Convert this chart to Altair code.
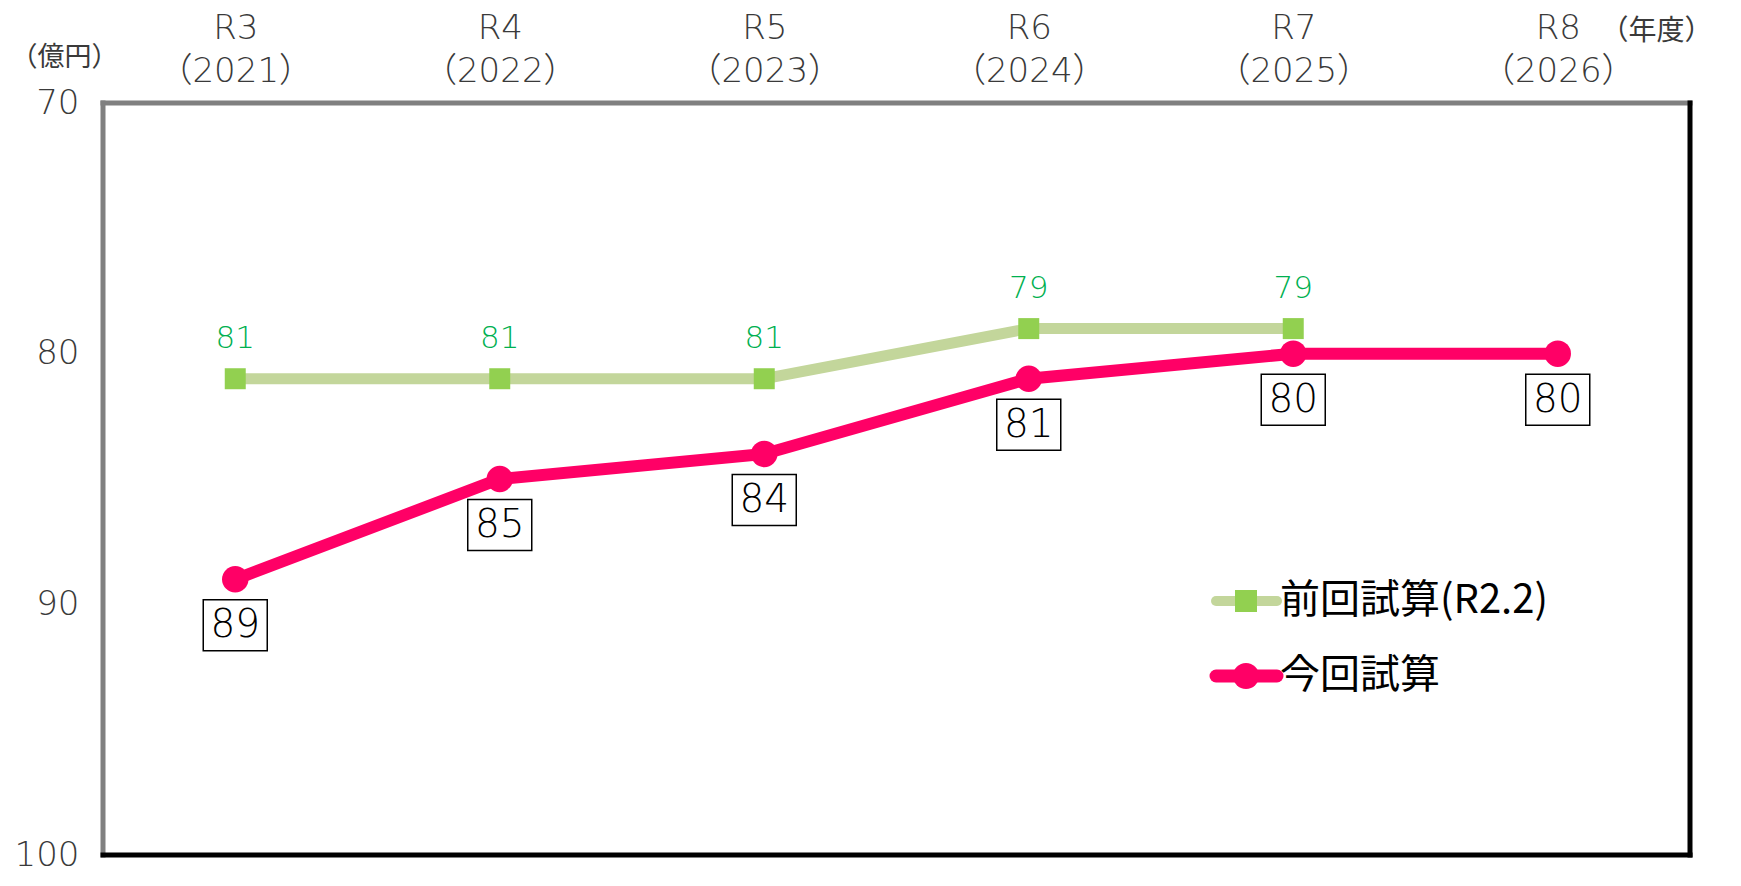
import altair as alt
import pandas as pd

# ---- data ----
periods = ["R3", "R4", "R5", "R6", "R7", "R8"]
years = ["2021", "2022", "2023", "2024", "2025", "2026"]
prev_values = [81, 81, 81, 79, 79]          # 前回試算(R2.2)
curr_values = [89, 85, 84, 81, 80, 80]      # 今回試算
series_names = ["前回試算(R2.2)", "今回試算"]
y_ticks = [70, 80, 90, 100]

keys = [f"{p}|（{y}）" for p, y in zip(periods, years)]
prev_df = pd.DataFrame({"key": keys[:len(prev_values)], "value": prev_values})
curr_df = pd.DataFrame({"key": keys, "value": curr_values})

W, H = 1587, 752
JP = "Noto Sans CJK JP"
NUM = "DejaVu Sans, Noto Sans CJK JP"
TXT = "#3a3a3a"

x_enc = alt.X(
    "key:N",
    sort=keys,
    scale=alt.Scale(domain=keys),
    axis=alt.Axis(
        orient="top", labelExpr="split(datum.label, '|')", labelAngle=0,
        labelFontSize=34, labelLineHeight=43, labelPadding=58, labelColor=TXT,
        labelFont=NUM, labelFontWeight=300, domain=False, ticks=False, grid=False,
        title="（年度）", titleFont=JP, titleFontSize=28, titleFontWeight="normal",
        titleColor=TXT, titleAngle=0, titleX=1609, titleY=-72,
        titleAlign="right", titleBaseline="middle",
    ),
)
y_enc = alt.Y(
    "value:Q",
    scale=alt.Scale(domain=[70, 100], reverse=True, nice=False, zero=False),
    axis=alt.Axis(
        values=y_ticks, grid=False, domain=False, ticks=False,
        labelFontSize=34, labelPadding=24, labelColor=TXT, labelFont=NUM,
        labelFontWeight=300,
        title="（億円）", titleFont=JP, titleFontSize=27, titleFontWeight="normal",
        titleColor=TXT, titleAngle=0, titleX=-93, titleY=-46,
        titleAlign="left", titleBaseline="middle",
    ),
)

prev_line = alt.Chart(prev_df).mark_line(color="#C3D69B", strokeWidth=11).encode(x=x_enc, y=y_enc)
curr_line = alt.Chart(curr_df).mark_line(color="#FF0066", strokeWidth=12).encode(x=x_enc, y=y_enc)
prev_pts = alt.Chart(prev_df).mark_point(shape="square", filled=True, color="#92D050",
                                         size=441, opacity=1).encode(x=x_enc, y=y_enc)
curr_pts = alt.Chart(curr_df).mark_point(shape="circle", filled=True, color="#FF0066",
                                         size=700, opacity=1).encode(x=x_enc, y=y_enc)
prev_lbl = alt.Chart(prev_df).mark_text(dy=-40, color="#00B050", fontSize=31, font=NUM,
                                        fontWeight=300, baseline="middle").encode(
    x=x_enc, y=y_enc, text="value:Q")
box_path = "M-1.255,-1H1.255V1H-1.255Z"
curr_box = alt.Chart(curr_df).mark_point(shape=box_path, size=2601, filled=True, fill="white",
                                         stroke="black", strokeWidth=1.5, opacity=1,
                                         yOffset=46).encode(x=x_enc, y=y_enc)
curr_lbl = alt.Chart(curr_df).mark_text(dy=46, color="black", fontSize=39, font=NUM,
                                        fontWeight=300, baseline="middle").encode(
    x=x_enc, y=y_enc, text="value:Q")

# ---- frame ----
frame_df = pd.DataFrame({"k": [0]})
top_b = alt.Chart(frame_df).mark_rule(color="#808080", strokeWidth=5, strokeCap="square").encode(
    x=alt.value(0), x2=alt.value(W), y=alt.value(0))
left_b = alt.Chart(frame_df).mark_rule(color="#808080", strokeWidth=5, strokeCap="square").encode(
    x=alt.value(0), y=alt.value(0), y2=alt.value(H))
right_b = alt.Chart(frame_df).mark_rule(color="black", strokeWidth=5, strokeCap="square").encode(
    x=alt.value(W), y=alt.value(0), y2=alt.value(H))
bottom_b = alt.Chart(frame_df).mark_rule(color="black", strokeWidth=5, strokeCap="square").encode(
    x=alt.value(0), x2=alt.value(W), y=alt.value(H))

# ---- legend ----
leg1 = pd.DataFrame({"name": [series_names[0]]})
leg2 = pd.DataFrame({"name": [series_names[1]]})
L1Y, L2Y = 498, 573
lx1, lx2, lmid, ltx = 1113, 1174, 1143, 1177
leg_line1 = alt.Chart(leg1).mark_rule(color="#C3D69B", strokeWidth=10, strokeCap="round").encode(
    x=alt.value(lx1), x2=alt.value(lx2), y=alt.value(L1Y))
leg_pt1 = alt.Chart(leg1).mark_point(shape="square", filled=True, color="#92D050", size=484,
                                     opacity=1).encode(x=alt.value(lmid), y=alt.value(L1Y))
leg_txt1 = alt.Chart(leg1).mark_text(align="left", baseline="middle", fontSize=40, font=JP,
                                     color="black").encode(x=alt.value(ltx), y=alt.value(L1Y), text="name:N")
leg_line2 = alt.Chart(leg2).mark_rule(color="#FF0066", strokeWidth=13, strokeCap="round").encode(
    x=alt.value(lx1), x2=alt.value(lx2), y=alt.value(L2Y))
leg_pt2 = alt.Chart(leg2).mark_point(shape="circle", filled=True, color="#FF0066", size=676,
                                     opacity=1).encode(x=alt.value(lmid), y=alt.value(L2Y))
leg_txt2 = alt.Chart(leg2).mark_text(align="left", baseline="middle", fontSize=40, font=JP,
                                     color="black").encode(x=alt.value(ltx), y=alt.value(L2Y), text="name:N")

chart = alt.layer(
    prev_line, curr_line, prev_pts, curr_pts, prev_lbl, curr_box, curr_lbl,
    top_b, left_b, right_b, bottom_b,
    leg_line1, leg_pt1, leg_txt1, leg_line2, leg_pt2, leg_txt2,
).properties(
    width=W, height=H,
    autosize=alt.AutoSizeParams(type="none"),
    padding={"left": 95, "top": 95, "right": 43, "bottom": 22},
    background="white",
).configure_view(stroke=None)

chart.save("out.html", embed_options={"renderer": "svg", "actions": False})
